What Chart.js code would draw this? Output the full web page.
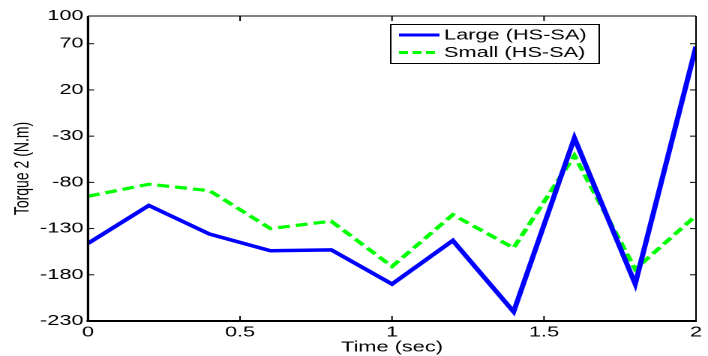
<!DOCTYPE html>
<html>
<head>
<meta charset="utf-8">
<script src="https://cdn.jsdelivr.net/npm/chart.js@4.4.1/dist/chart.umd.min.js"></script>
<style>
  html, body { margin: 0; padding: 0; background: #ffffff; overflow: hidden; }
  #wrap { position: absolute; left: 0; top: 0; width: 472px; height: 356px;
          transform: scaleX(1.5); transform-origin: 0 0; }
</style>
</head>
<body>
<div id="wrap"><canvas id="c" width="472" height="356"></canvas></div>
<script>
// ---- data ----
const times = [0, 0.2, 0.4, 0.6, 0.8, 1.0, 1.2, 1.4, 1.6, 1.8, 2.0];
const largeHS = [-146, -105, -136, -154, -153, -190, -143, -220, -32, -190, 67];
const smallHS = [-95, -82, -89, -130, -122, -171, -115, -151, -51, -174, -116];
const seriesNames = ['Large (HS-SA)', 'Small (HS-SA)'];
const yTickValues = [100, 70, 20, -30, -80, -130, -180, -230];
const xTickValues = [0, 0.5, 1, 1.5, 2];
const xTitle = 'Time (sec)';
const yTitle = 'Torque 2 (N.m)';

const FONT = 'Liberation Sans, Arial, sans-serif';

function line(ctx, x1, y1, x2, y2) {
  ctx.beginPath(); ctx.moveTo(x1, y1); ctx.lineTo(x2, y2); ctx.stroke();
}

const framePlugin = {
  id: 'frame',
  afterDatasetsDraw(chart) {
    const { ctx, chartArea: a, scales: { x, y } } = chart;
    ctx.save();
    ctx.strokeStyle = '#000';
    ctx.lineWidth = 1;
    y.ticks.forEach(t => {
      const py = y.getPixelForValue(t.value);
      line(ctx, a.left, py, a.left + 4, py);
      line(ctx, a.right, py, a.right - 4, py);
    });
    x.ticks.forEach(t => {
      const px = x.getPixelForValue(t.value);
      line(ctx, px, a.bottom, px, a.bottom - 5);
      line(ctx, px, a.top, px, a.top + 5);
    });
    ctx.lineWidth = 1;
    line(ctx, a.left, a.top, a.right, a.top);
    line(ctx, a.right, a.top, a.right, a.bottom);
    ctx.lineWidth = 1.6;
    line(ctx, a.left, a.top, a.left, a.bottom);
    ctx.lineWidth = 2;
    line(ctx, a.left - 1, a.bottom, a.right + 0.5, a.bottom);
    ctx.restore();
  },
  afterDraw(chart) {
    const { ctx } = chart;
    const bx = 260, by = 24, bw = 139, bh = 39;
    ctx.save();
    ctx.fillStyle = '#fff';
    ctx.fillRect(bx, by, bw, bh);
    ctx.strokeStyle = '#000';
    ctx.lineWidth = 1;
    ctx.strokeRect(bx + 0.5, by + 0.5, bw, bh);
    const rows = [35, 52.5];
    chart.data.datasets.forEach((ds, i) => {
      const ry = rows[i];
      ctx.strokeStyle = ds.borderColor;
      ctx.lineWidth = 3;
      ctx.setLineDash(ds.borderDash ? [6, 3] : []);
      line(ctx, 266, ry, 293, ry);
      ctx.setLineDash([]);
      ctx.fillStyle = '#000';
      ctx.font = '14.5px ' + FONT;
      ctx.textBaseline = 'middle';
      ctx.textAlign = 'left';
      ctx.fillText(ds.label, 296, ry + 0.5);
    });
    ctx.restore();
  }
};

new Chart(document.getElementById('c'), {
  type: 'line',
  data: {
    datasets: [
      {
        label: seriesNames[0],
        data: times.map((t, i) => ({ x: t, y: largeHS[i] })),
        borderColor: '#0000FF',
        borderWidth: 3.5,
        pointRadius: 0,
        tension: 0,
        fill: false
      },
      {
        label: seriesNames[1],
        data: times.map((t, i) => ({ x: t, y: smallHS[i] })),
        borderColor: '#00FF00',
        borderWidth: 3.2,
        borderDash: [8, 4],
        pointRadius: 0,
        tension: 0,
        fill: false
      }
    ]
  },
  options: {
    responsive: false,
    animation: false,
    devicePixelRatio: 2,
    layout: { padding: { left: 0, right: 8, top: 16, bottom: 0 } },
    plugins: { legend: { display: false }, tooltip: { enabled: false } },
    scales: {
      x: {
        type: 'linear',
        min: 0, max: 2,
        afterBuildTicks: s => { s.ticks = xTickValues.map(v => ({ value: v })); },
        afterFit: s => { s.height = 35; },
        grid: { display: false, drawTicks: false },
        border: { display: false },
        ticks: {
          color: '#000', padding: 3, maxRotation: 0, autoSkip: false,
          font: { family: FONT, size: 14.5 },
          callback: v => String(v)
        },
        title: {
          display: true, text: xTitle, color: '#000',
          font: { family: FONT, size: 14.5 },
          padding: { top: 0, bottom: 0 }
        }
      },
      y: {
        min: -230, max: 100,
        afterBuildTicks: s => { s.ticks = yTickValues.map(v => ({ value: v })); },
        afterFit: s => { s.width = 58.7; },
        grid: { display: false, drawTicks: false },
        border: { display: false },
        ticks: {
          color: '#000', padding: 3, autoSkip: false,
          font: { family: FONT, size: 14.5 },
          callback: v => String(v)
        },
        title: {
          display: true, text: yTitle, color: '#000',
          font: { family: FONT, size: 14 },
          padding: { top: 6.6, bottom: 0 }
        }
      }
    }
  },
  plugins: [framePlugin]
});
</script>
</body>
</html>
